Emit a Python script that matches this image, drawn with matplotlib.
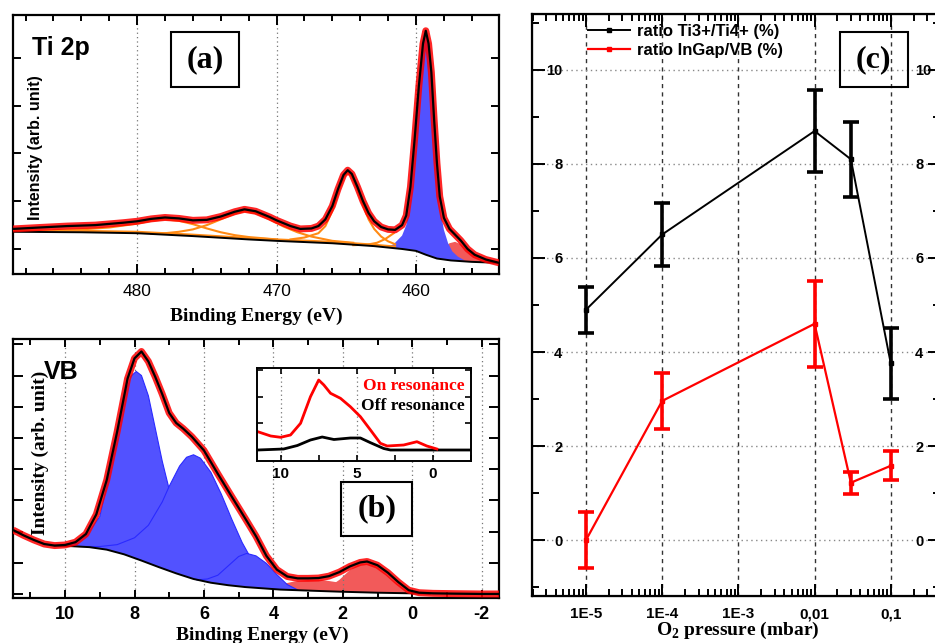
import numpy as np
import matplotlib
matplotlib.use('Agg')
import matplotlib.pyplot as plt
from matplotlib.patches import Rectangle
from matplotlib.ticker import MultipleLocator, LogLocator, NullFormatter

plt.rcParams['font.family'] = 'Liberation Sans'
plt.rcParams['mathtext.fontset'] = 'custom'
plt.rcParams['mathtext.rm'] = 'Liberation Serif'
plt.rcParams['mathtext.bf'] = 'Liberation Serif:bold'
plt.rcParams['axes.unicode_minus'] = False

SERIF = 'Liberation Serif'
BLUE = '#5252FF'
RED_FILL = '#F25A5A'
ORANGE = '#FF8A14'

# ---------------- (a) Ti 2p ----------------
ti_be = [488.9, 487, 485, 483, 481, 480, 479, 478, 477, 476,
         475, 474, 473, 472.3, 471.5, 470.5, 470, 469, 468.3, 467.5,
         467, 466.5, 466, 465.6, 465.2, 464.9, 464.6, 464.2, 463.8, 463.4,
         463, 462.5, 462, 461.5, 461, 460.7, 460.4, 460.1, 459.8, 459.5,
         459.3, 459.1, 458.9, 458.7, 458.5, 458.3, 458.0, 457.6, 457.2, 456.8,
         456.3, 455.8, 455, 454.05]
ti_int = [1.42, 1.45, 1.48, 1.50, 1.55, 1.58, 1.63, 1.66, 1.64, 1.60,
          1.61, 1.68, 1.78, 1.83, 1.79, 1.67, 1.60, 1.48, 1.42, 1.43,
          1.48, 1.62, 1.90, 2.25, 2.55, 2.65, 2.57, 2.30, 2.00, 1.75,
          1.58, 1.46, 1.41, 1.40, 1.50, 1.70, 2.30, 3.30, 4.40, 5.30,
          5.57, 5.30, 4.70, 3.70, 2.80, 2.10, 1.65, 1.42, 1.30, 1.18,
          1.00, 0.88, 0.78, 0.71]

ti_bg_be = [488.9, 484, 480, 476, 472, 470, 466, 463, 461, 460, 459.3, 458.5, 457.5, 456, 454.05]
ti_bg_int = [1.36, 1.35, 1.33, 1.27, 1.20, 1.17, 1.12, 1.06, 1.00, 0.96, 0.88, 0.80, 0.76, 0.73, 0.71]
ti_obg_be = [488.9, 484, 480, 476, 472, 470, 466, 463, 461.5]
ti_obg_int = [1.39, 1.38, 1.36, 1.30, 1.23, 1.20, 1.15, 1.09, 1.05]

sat1_be = [486, 484, 482, 480, 479, 478, 477, 476, 475, 474, 473, 472, 470]
sat1_int = [1.39, 1.41, 1.45, 1.53, 1.59, 1.62, 1.59, 1.52, 1.43, 1.35, 1.29, 1.25, 1.20]
sat2_be = [479, 478, 477, 476, 475, 474, 473, 472.3, 471.5, 470.5, 469.5, 468.5, 467.5, 466, 464.5]
sat2_int = [1.32, 1.33, 1.36, 1.41, 1.50, 1.62, 1.74, 1.79, 1.75, 1.62, 1.47, 1.35, 1.26, 1.17, 1.13]
p12_be = [469, 468, 467, 466.5, 466, 465.6, 465.2, 464.9, 464.6, 464.2, 463.8, 463.4, 463, 462.5, 462, 461.5]
p12_int = [1.20, 1.24, 1.33, 1.48, 1.80, 2.18, 2.50, 2.60, 2.52, 2.25, 1.92, 1.62, 1.42, 1.26, 1.16, 1.10]
tail_be = [464.5, 463.5, 462.8, 462.2, 461.6]
tail_int = [1.08, 1.09, 1.13, 1.21, 1.33]

ti4_be = [462.2, 461.6, 461.0, 460.7, 460.4, 460.1, 459.8, 459.5, 459.3, 459.1,
          458.9, 458.7, 458.5, 458.3, 458.0, 457.7, 457.4, 457.0, 456.5]
ti4_int = [1.03, 1.10, 1.28, 1.50, 2.10, 3.10, 4.25, 5.20, 5.55, 5.25,
           4.60, 3.55, 2.60, 1.90, 1.40, 1.12, 0.95, 0.84, 0.76]
ti3_be = [458.9, 458.5, 458.0, 457.6, 457.2, 456.8, 456.3, 455.8, 455.2, 454.6, 454.05]
ti3_int = [0.84, 0.90, 1.02, 1.12, 1.15, 1.10, 0.99, 0.88, 0.79, 0.74, 0.72]

# ---------------- (b) VB ----------------
vb_be = [11.5, 11.2, 10.9, 10.6, 10.3, 10.0, 9.7, 9.4, 9.1, 8.8,
         8.5, 8.2, 8.0, 7.8, 7.6, 7.4, 7.2, 7.0, 6.8, 6.6,
         6.35, 6.0, 5.6, 5.2, 4.8, 4.5, 4.2, 3.9, 3.6, 3.3,
         3.0, 2.7, 2.4, 2.1, 1.8, 1.5, 1.3, 1.0, 0.7, 0.4,
         0.1, -0.2, -0.6, -1.2, -2.0, -2.5]
vb_int = [2.05, 1.88, 1.73, 1.60, 1.55, 1.57, 1.66, 1.92, 2.55, 3.65,
          5.20, 6.90, 7.55, 7.77, 7.45, 6.95, 6.40, 5.80, 5.48, 5.30,
          5.04, 4.60, 3.85, 3.12, 2.40, 1.85, 1.22, 0.78, 0.56, 0.50,
          0.50, 0.51, 0.57, 0.70, 0.88, 1.01, 1.04, 0.92, 0.68, 0.38,
          0.12, 0.04, 0.02, 0.01, 0.0, 0.0]
vb_bg_be = [10.3, 9.8, 9.3, 8.8, 8.3, 7.8, 7.3, 6.8, 6.3, 5.8, 5.3, 4.8, 4.3, 3.8, 3.3, 2.8, 2.0, 1.0, 0.0, -0.5]
vb_bg_int = [1.55, 1.53, 1.50, 1.42, 1.27, 1.07, 0.86, 0.66, 0.48, 0.36, 0.28, 0.22, 0.18, 0.14, 0.12, 0.10, 0.07, 0.04, 0.02, 0.01]

o2p1_be = [10.2, 9.8, 9.4, 9.0, 8.6, 8.3, 8.1, 7.95, 7.8, 7.6, 7.4, 7.2, 7.0, 6.7, 6.4, 6.0, 5.6, 5.2, 4.8]
o2p1_int = [1.55, 1.62, 1.85, 2.48, 4.45, 6.30, 6.98, 7.13, 7.00, 6.35, 5.30, 4.25, 3.35, 2.30, 1.55, 0.90, 0.55, 0.35, 0.22]
o2p2_be = [9.6, 9.0, 8.5, 8.0, 7.6, 7.2, 7.0, 6.7, 6.5, 6.3, 6.1, 5.8, 5.5, 5.2, 4.9, 4.6, 4.3, 4.0, 3.6]
o2p2_int = [1.52, 1.52, 1.58, 1.80, 2.20, 2.95, 3.45, 4.10, 4.38, 4.46, 4.35, 3.90, 3.20, 2.40, 1.65, 1.05, 0.60, 0.32, 0.15]
o2p3_be = [6.2, 5.9, 5.6, 5.3, 5.0, 4.77, 4.5, 4.2, 3.9, 3.6, 3.3]
o2p3_int = [0.45, 0.48, 0.60, 0.90, 1.20, 1.30, 1.22, 0.98, 0.62, 0.30, 0.13]
gap1_be = [2.7, 2.4, 2.1, 1.8, 1.55, 1.3, 1.05, 0.8, 0.5, 0.2, -0.1, -0.4]
gap1_int = [0.10, 0.22, 0.45, 0.76, 0.94, 0.98, 0.90, 0.68, 0.38, 0.14, 0.04, 0.01]
gap2_be = [4.6, 4.2, 3.8, 3.4, 3.0, 2.6, 2.2, 1.8, 1.4, 1.0, 0.6]
gap2_int = [0.20, 0.22, 0.30, 0.40, 0.45, 0.45, 0.38, 0.26, 0.14, 0.07, 0.03]

# inset: resonant photoemission
on_be = [11.5, 10.65, 10.0, 9.35, 8.69, 8.04, 7.5, 7.16, 6.72, 6.07, 5.42, 4.76, 4.1, 3.45, 3.0, 1.92, 1.05, 0.4, -0.26]
on_int = [29.3, 25, 23.7, 26, 37.7, 64.3, 81, 76, 67.7, 62.7, 54.3, 44.3, 31, 17.7, 15, 16, 19.3, 15, 12]
off_be = [11.5, 9.8, 8.9, 8.04, 7.27, 6.5, 5.42, 4.76, 4.1, 3.23, 2.79, -2.5]
off_int = [11, 12, 15.5, 21, 24, 21.5, 23, 23, 18.3, 12.5, 11, 11]

# ---------------- (c) ratios vs O2 pressure ----------------
pressure = [1e-5, 1e-4, 1e-2, 3e-2, 1e-1]
ti_ratio = [4.9, 6.5, 8.7, 8.1, 3.76]
ti_err = [0.49, 0.66, 0.88, 0.80, 0.75]
gap_ratio = [0.0, 2.96, 4.6, 1.22, 1.58]
gap_err = [0.59, 0.60, 0.91, 0.23, 0.31]
p_ticks = [1e-5, 1e-4, 1e-3, 1e-2, 1e-1]
p_labels = ['1E-5', '1E-4', '1E-3', '0,01', '0,1']

W, H = 935, 643
fig = plt.figure(figsize=(W / 100, H / 100), dpi=100)


def px_axes(l, t, r, b):
    return fig.add_axes([l / W, 1 - b / H, (r - l) / W, (b - t) / H])


def fill_comp(ax, cx, cy, bx, by, color, z):
    lo, hi = min(cx[0], cx[-1]), max(cx[0], cx[-1])
    inner = sorted((x, y) for x, y in zip(bx, by) if lo < x < hi)
    ax.fill(list(cx) + [p[0] for p in inner], list(cy) + [p[1] for p in inner],
            color=color, lw=0, zorder=z)


def label_box(ax, txt, x0, y0, x1, y1, size):
    ax.add_patch(Rectangle((x0, y0), x1 - x0, y1 - y0, transform=ax.transAxes,
                           fill=False, lw=1.5, ec='black', zorder=10, clip_on=False))
    ax.text((x0 + x1) / 2, (y0 + y1) / 2, txt, transform=ax.transAxes, ha='center',
            va='center', fontsize=size, fontweight='bold', family=SERIF, zorder=11)


def frame(ax, lw=1.6):
    for s in ax.spines.values():
        s.set_linewidth(lw)


grid_kw = dict(color='#777777', lw=0.9, linestyle=(0, (1, 2.5)))

# ---- (a)
ax = px_axes(13, 15, 499, 274)
fill_comp(ax, ti3_be, ti3_int, ti_bg_be, ti_bg_int, RED_FILL, 1)
fill_comp(ax, ti4_be, ti4_int, ti_bg_be, ti_bg_int, BLUE, 2)
for bx, by in [(sat1_be, sat1_int), (sat2_be, sat2_int), (p12_be, p12_int),
               (tail_be, tail_int), (ti_obg_be, ti_obg_int)]:
    ax.plot(bx, by, color=ORANGE, lw=1.5, zorder=3)
ax.plot(ti_bg_be, ti_bg_int, color='black', lw=1.4, zorder=4)
ax.plot(ti_be, ti_int, color='red', lw=5, alpha=0.85, zorder=5, solid_capstyle='butt')
ax.plot(ti_be, ti_int, color='black', lw=1.6, zorder=6)
ax.set_xlim(488.9, 454.05)
ax.set_ylim(0.476, 5.9)
ax.xaxis.set_major_locator(MultipleLocator(10))
ax.xaxis.set_minor_locator(MultipleLocator(2))
ax.yaxis.set_major_locator(MultipleLocator(1))
ax.set_yticklabels([])
ax.tick_params(which='both', direction='in', top=True, right=True, width=1.4)
ax.tick_params(axis='x', which='major', length=7, labelsize=12.5, pad=7)
ax.tick_params(axis='x', which='minor', length=4)
ax.tick_params(axis='y', length=6)
ax.grid(axis='x', which='major', **grid_kw)
frame(ax)
ax.set_xlabel('Binding Energy (eV)', family=SERIF, fontweight='bold', fontsize=14, va='baseline')
ax.xaxis.set_label_coords(0.5, -0.182)
ax.set_ylabel('Intensity (arb. unit)', fontweight='bold', fontsize=11.5, va='center', ha='center')
ax.yaxis.set_label_coords(0.047, 0.488)
ax.text(0.0385, 0.873, 'Ti 2p', transform=ax.transAxes, fontsize=18, fontweight='bold',
        va='center', ha='left')
label_box(ax, '(a)', 0.325, 0.722, 0.465, 0.934, 23)

# ---- (b)
ax = px_axes(13, 339, 499, 597.7)
fill_comp(ax, gap2_be, gap2_int, vb_bg_be, vb_bg_int, RED_FILL, 1)
fill_comp(ax, gap1_be, gap1_int, vb_bg_be, vb_bg_int, RED_FILL, 1)
for cx, cy in [(o2p1_be, o2p1_int), (o2p2_be, o2p2_int), (o2p3_be, o2p3_int)]:
    fill_comp(ax, cx, cy, vb_bg_be, vb_bg_int, BLUE, 2)
    ax.plot(cx, cy, color='#2a2aff', lw=0.8, zorder=2)
ax.plot(vb_bg_be, vb_bg_int, color='black', lw=1.4, zorder=4)
ax.plot(vb_be, vb_int, color='red', lw=5, alpha=0.85, zorder=5, solid_capstyle='butt')
ax.plot(vb_be, vb_int, color='black', lw=1.6, zorder=6)
ax.set_xlim(11.5, -2.5)
ax.set_ylim(-0.12, 8.17)
ax.xaxis.set_major_locator(MultipleLocator(2))
ax.xaxis.set_minor_locator(MultipleLocator(1))
ax.yaxis.set_major_locator(MultipleLocator(1))
ax.set_yticklabels([])
ax.tick_params(which='both', direction='in', top=True, right=True, width=1.4)
ax.tick_params(axis='x', which='major', length=6, labelsize=13, pad=6)
ax.tick_params(axis='x', which='minor', length=4)
ax.tick_params(axis='y', length=7)
for lab in ax.get_xticklabels():
    lab.set_fontweight('bold')
ax.grid(axis='x', which='major', **grid_kw)
frame(ax)
ax.set_xlabel('Binding Energy (eV)', family=SERIF, fontweight='bold', fontsize=14, va='baseline')
ax.xaxis.set_label_coords(0.514, -0.162)
ax.set_ylabel('Intensity (arb. unit)', family=SERIF, fontweight='bold', fontsize=14,
              va='center', ha='center')
ax.yaxis.set_label_coords(0.0556, 0.559)
ax.text(0.0638, 0.874, 'VB', transform=ax.transAxes, fontsize=18, fontweight='bold',
        va='center', ha='left')
label_box(ax, '(b)', 0.675, 0.2397, 0.8216, 0.4484, 23)

# inset
ax = px_axes(257.3, 368, 471, 461)
ax.plot(off_be, off_int, color='black', lw=2)
ax.plot(on_be, on_int, color='red', lw=2)
ax.set_xlim(11.53, -2.5)
ax.set_ylim(0, 93)
ax.xaxis.set_major_locator(MultipleLocator(5))
ax.xaxis.set_minor_locator(MultipleLocator(2.5))
ax.set_yticks([11, 37.7, 64.3, 91])
ax.set_yticklabels([])
ax.tick_params(which='both', direction='in', top=True, right=True, width=1.2, length=4)
ax.tick_params(axis='x', labelsize=11, pad=4)
for lab in ax.get_xticklabels():
    lab.set_fontweight('bold')
ax.grid(axis='x', which='major', **grid_kw)
frame(ax, 1.4)
ax.text(0.97, 0.81, 'On resonance', transform=ax.transAxes, color='red', family=SERIF,
        fontweight='bold', fontsize=12.5, ha='right', va='center')
ax.text(0.97, 0.59, 'Off resonance', transform=ax.transAxes, color='black', family=SERIF,
        fontweight='bold', fontsize=12.5, ha='right', va='center')

# ---- (c)
ax = px_axes(532.3, 14, 940, 596)
ax.set_xscale('log')
ax.set_xlim(10 ** -5.705, 10 ** -0.353)
ax.set_ylim(-1.19, 11.19)
ax.grid(axis='x', which='major', color='#333333', lw=1.0, linestyle=(0, (3, 3)))
ax.grid(axis='y', which='major', color='#888888', lw=1.0, linestyle=(0, (1, 2.5)))
ax.errorbar(pressure, ti_ratio, yerr=ti_err, fmt='none', ecolor='black', elinewidth=2.6,
            capsize=6, capthick=2.6, zorder=4)
ax.errorbar(pressure, gap_ratio, yerr=gap_err, fmt='none', ecolor='red', elinewidth=2.6,
            capsize=6, capthick=2.6, zorder=4)
ax.plot(pressure, ti_ratio, color='black', lw=1.4, marker='s', ms=3.5,
        label='ratio Ti3+/Ti4+ (%)', zorder=5)
ax.plot(pressure, gap_ratio, color='red', lw=1.6, marker='s', ms=3.5,
        label='ratio InGap/VB (%)', zorder=5)
ax.set_xticks(p_ticks)
ax.set_xticklabels(p_labels)
ax.xaxis.set_minor_locator(LogLocator(base=10, subs=np.arange(2, 10), numticks=20))
ax.xaxis.set_minor_formatter(NullFormatter())
ax.yaxis.set_major_locator(MultipleLocator(2))
ax.yaxis.set_minor_locator(MultipleLocator(1))
ax.tick_params(which='both', direction='in', top=True, width=1.4)
ax.tick_params(which='major', length=9)
ax.tick_params(which='minor', length=5)
ax.tick_params(axis='x', labelsize=11, pad=8)
ax.tick_params(axis='y', labelsize=10.5, pad=-21.5)
for lab in ax.get_xticklabels() + ax.get_yticklabels():
    lab.set_fontweight('bold')
frame(ax, 1.6)
ax2 = ax.twinx()
ax2.set_ylim(-1.19, 11.19)
ax2.yaxis.set_major_locator(MultipleLocator(2))
ax2.yaxis.set_minor_locator(MultipleLocator(1))
ax2.tick_params(which='both', direction='in', width=1.4)
ax2.tick_params(which='major', length=9, labelsize=10.5, pad=-18)
ax2.tick_params(which='minor', length=5)
for lab in ax2.get_yticklabels():
    lab.set_fontweight('bold')
ax.legend(loc='upper left', bbox_to_anchor=(0.1366, 0.983), frameon=False, borderaxespad=0,
          borderpad=0, handlelength=2.5, handletextpad=0.45, labelspacing=0.25,
          prop={'weight': 'bold', 'size': 12})
ax.set_xlabel(r'O$_\mathbf{2}$ pressure (mbar)', family=SERIF, fontweight='bold', fontsize=14,
              va='baseline')
ax.xaxis.set_label_coords(0.5045, -0.0663)
label_box(ax, '(c)', 0.7547, 0.874, 0.9208, 0.9686, 23)

fig.savefig('out.png', dpi=100)
